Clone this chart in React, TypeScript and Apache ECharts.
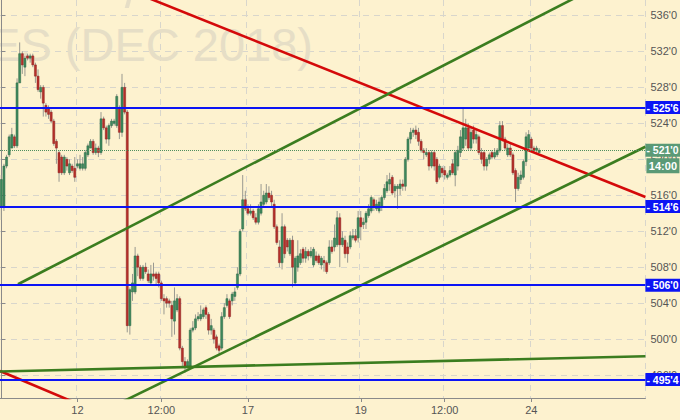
import React, { useEffect, useRef } from "react";
import * as echarts from "echarts";

const SLOTS = 246;
const xTickIndex = [29, 61, 94, 137, 169, 202];
const xTickLabels = ["12", "12:00", "17", "19", "12:00", "24"];
const yTicks = [496, 500, 504, 508, 512, 516, 520, 524, 528, 532, 536];
const yMin = 493.45;
const yMax = 537.72;
const levels = [525.75, 514.75, 506, 495.5];
const lastPrice = 521;
const lastTime = "14:00";
const title = "ES (DEC 2018)";

// [open, close, low, high]
const candles = [
  [514.75, 517.75, 513.25, 518.25], [514.75, 519.25, 514.25, 519.5], [519.25, 520.25, 519, 520.5], [520.5, 522.5, 520.25, 522.75],
  [521.25, 522.75, 521.25, 523.5], [522.5, 521.5, 521.25, 522.75], [521.5, 528.5, 521.25, 529], [528.5, 531.75, 528.5, 533],
  [531.75, 530.5, 529.5, 532], [530.25, 531.25, 529.25, 531.5], [531.5, 531.25, 531, 531.75], [531.25, 531.5, 530.75, 531.75],
  [531.5, 530.5, 530.25, 531.75], [530.5, 529.25, 528.5, 530.75], [529.25, 527.75, 527.5, 530], [527.5, 528, 526.75, 528.25],
  [528, 526.25, 524.75, 528.25], [526, 525.25, 524.75, 526.25], [525.75, 525, 524.5, 526], [525.25, 524.25, 524, 525.5],
  [524.25, 521.75, 521.5, 524.5], [522, 521.25, 519.5, 522.25], [520.75, 518.5, 517.5, 521], [520.25, 518.5, 518.25, 520.5],
  [518.5, 520.25, 518.25, 520.5], [520, 519.25, 518.75, 520.25], [518.5, 519.5, 518.25, 520], [519.25, 518.75, 518.5, 519.5],
  [519, 518, 517.5, 520.25], [519.25, 519.5, 519, 520], [519, 519.5, 518.75, 520.5], [519, 519.5, 518.75, 520.25],
  [519, 520.75, 518.75, 521], [520.5, 521.5, 520.25, 521.75], [521.25, 522, 521.25, 522.25], [522, 520.75, 520.5, 522.25],
  [520.75, 521.25, 520.5, 521.75], [521.25, 520.75, 520.25, 521.5], [520.75, 524.5, 520.5, 525.25], [524.5, 523.5, 523.25, 524.75],
  [523.5, 522.25, 521.75, 523.75], [522.25, 523.75, 521.5, 524], [523.75, 524.25, 523.5, 524.5], [524, 524.25, 523.75, 524.5],
  [523.75, 527, 523.5, 527.25], [525.75, 523, 522.25, 526], [523, 528, 522.5, 529.5], [528, 525.25, 525, 528.5],
  [525.25, 501.5, 500.75, 525.5], [501.5, 505.5, 500.5, 505.75], [505.25, 506.25, 504.25, 507.25], [505.25, 509.25, 505, 510.25],
  [509.25, 508, 507, 509.5], [508, 506.75, 506.5, 508.25], [506.75, 508, 506.5, 508.25], [508, 507.5, 507.25, 508.5],
  [507.25, 506.5, 506.25, 507.75], [506.25, 507.25, 506, 508.25], [507.25, 507, 506.5, 508.5], [507.25, 506.75, 506, 507.5],
  [507.25, 506.25, 505.75, 507.5], [506.25, 504.5, 504.25, 506.5], [504.5, 504.25, 502.75, 505], [504.5, 504, 503.5, 504.75],
  [504.25, 504, 503.5, 504.5], [503.75, 502.25, 500.25, 504.25], [502, 504.25, 500.5, 505.75], [503.25, 504.5, 503, 505],
  [504.5, 499, 498.75, 504.75], [499, 497.5, 497, 499.25], [497.5, 497, 496.25, 498], [497, 497.5, 496.75, 497.75],
  [497, 501, 496.75, 501.25], [501, 501.25, 500.75, 502], [501.25, 502.25, 501, 502.75], [502.25, 502.5, 502, 503],
  [502.25, 502.75, 502, 503.75], [502.5, 503.25, 502.25, 503.5], [503.5, 502.75, 502.25, 503.75], [502.75, 501, 500.5, 503],
  [501, 501.5, 500.5, 502.25], [501, 500, 499.5, 501.25], [500.25, 499, 498.75, 500.5], [499.25, 498.75, 498.25, 499.5],
  [499, 502.5, 498.75, 503], [502.5, 503.5, 502.25, 504], [503.75, 504.5, 503.5, 505], [504.25, 502.5, 502.25, 504.5],
  [504.25, 505, 503.75, 505.25], [504.75, 505.25, 504.25, 505.75], [505.75, 507.25, 505.5, 508], [507.25, 512, 507, 512.25],
  [512.25, 515.5, 512, 518.25], [515.5, 514.5, 514.25, 516.5], [514.5, 514, 513.75, 515], [514, 514.25, 513.75, 515],
  [514.25, 513.5, 513.25, 514.5], [513.5, 513, 512.75, 514], [513, 514.5, 512.75, 515], [514, 515.25, 513.75, 517.25],
  [515, 516, 514.75, 516.5], [515.25, 516.25, 515, 517.25], [516.25, 515.75, 515.5, 517], [516, 515.25, 514.75, 516.5],
  [515, 512.5, 512.25, 515.5], [512.5, 510.75, 510.5, 512.75], [510.25, 508.5, 508, 511], [508.5, 512.5, 507.75, 514],
  [512.5, 509.5, 509, 512.75], [511, 510.25, 509.75, 511.25], [509.5, 511, 509.25, 511.25], [511, 508, 505.75, 511.5],
  [506.25, 509, 506, 509.25], [508, 509.25, 507.5, 511], [508.5, 509.5, 508.25, 510], [510, 509, 508.5, 510.25],
  [509, 509.75, 508.5, 510.25], [509.75, 509.25, 508.75, 510], [509.25, 509.75, 509, 510.25], [508.25, 510, 508, 510.25],
  [509.25, 508.75, 508.5, 509.75], [509.25, 508.5, 508.25, 509.5], [508.25, 509, 507.75, 509.25], [508.75, 508.5, 507.5, 509.25],
  [508.5, 507.5, 507.25, 508.75], [508.5, 510.25, 508.25, 511], [510.25, 509.75, 509.5, 511], [510.25, 511.25, 509.75, 512.75],
  [510.5, 513.5, 510.25, 514.25], [513.5, 510.5, 508, 514], [510.5, 511.25, 510.25, 512], [511, 509.5, 509, 511.5],
  [510.25, 509.5, 508.5, 510.75], [510.25, 511.5, 510, 512], [511.25, 511.5, 511, 512.25], [511.5, 511, 510.75, 512.25],
  [511.25, 513.5, 510.75, 514.25], [513.5, 512.5, 511, 514.25], [512.75, 513, 512.25, 513.5], [513, 514, 512.25, 514.25],
  [513.75, 514.5, 513.5, 515], [514.25, 515.75, 514, 516], [515.5, 514.75, 514.25, 515.75], [514.5, 515, 514.25, 515.5],
  [514.25, 515.25, 514, 515.75], [514.75, 515.75, 514.25, 516], [515.75, 516.75, 515.5, 517.25], [516.5, 517.5, 516.25, 518.25],
  [517.25, 517.75, 516.5, 518.5], [518, 516.25, 516, 518.25], [516.5, 517, 515.75, 517.25], [516.75, 517, 514.5, 517.25],
  [516.75, 517.25, 516, 517.75], [517.25, 517, 516.5, 517.75], [517, 520, 516.5, 520.25], [520, 522.25, 519.75, 522.5],
  [522.25, 523, 521.75, 523.5], [523, 523.25, 522.5, 523.5], [523.25, 522.75, 522.25, 523.75], [523, 522, 521.5, 523.5],
  [522, 521, 520.75, 522.25], [521, 520.75, 520, 521.25], [520.5, 520.75, 520.25, 521.25], [520.75, 519.25, 518.75, 521],
  [519.25, 520.75, 519, 521], [520.75, 519.25, 518.75, 521], [520, 517.5, 517.25, 520.25], [518, 519.25, 517.75, 519.5],
  [519, 518.5, 518, 519.25], [518.75, 518.25, 517.75, 519.25], [518, 518.25, 517.75, 518.5], [518.25, 518.75, 518, 519.25],
  [519.5, 518.5, 518.25, 520], [518.25, 520.75, 517, 521], [519.25, 521, 518.75, 521.5], [520.75, 522.5, 520.25, 523.25],
  [521.25, 523.5, 521, 525.75], [522.25, 523.5, 521.5, 524.5], [523.5, 521.25, 521, 524], [521.25, 523, 521, 523.5],
  [523.25, 522.25, 521.75, 523.75], [522.25, 522.75, 521.75, 523.25], [522.5, 520.75, 520.5, 522.75], [520.75, 520, 519.5, 521.25],
  [520.75, 519.25, 518.75, 521], [519.25, 520, 518.75, 520.25], [520, 520.5, 519.5, 520.75], [520.75, 520.25, 520, 521],
  [520.25, 520.75, 520, 521.25], [520.5, 521, 520.25, 521.25], [521, 523.75, 520.75, 524.25], [523.75, 522.25, 522, 524.25],
  [522.25, 521.25, 521, 522.5], [520.5, 521.25, 520.25, 521.75], [521.25, 520.5, 520.25, 521.75], [520.5, 518.5, 518.25, 520.75],
  [518.75, 516.75, 515.25, 519], [516.75, 518, 516.5, 518.5], [517.75, 518.25, 517.25, 518.75], [518, 519.75, 517.75, 520],
  [519.75, 522.5, 519.25, 523], [521.25, 522.75, 521, 523.25], [522.25, 521.25, 521, 522.5], [521.25, 521, 520.75, 521.5],
  [521, 521.25, 520.75, 521.5], [520.75, 521, 520.75, 521.25],
];

// trend lines: [[slotIndex, price], [slotIndex, price]]
const redLines = [
  [[37.6, 540.1], [245.5, 515.8]],
  [[-0.5, 496.45], [30, 492.7]],
];
const greenLines = [
  [[6.35, 506.1], [235.6, 540.5]],
  [[45.2, 492.9], [245.5, 521.4]],
  [[-0.5, 496.4], [245.5, 498.1]],
];

const BG = "#fdf2cf";
const FONT = "'Liberation Sans', Arial, sans-serif";
const UP = "#3f8a5e";
const DOWN = "#b8302a";
const LABEL_GREEN = "#5a9a76";
const BLUE = "#0b14f5";

function fmt(v: number) {
  const w = Math.floor(v + 1e-9);
  const e = Math.round((v - w) * 8);
  return `${w}'${e}`;
}

export default function App() {
  const ref = useRef<HTMLDivElement>(null);
  useEffect(() => {
    document.body.style.margin = "0";
    const el = ref.current;
    if (!el) return;
    const chart = echarts.init(el, null, { renderer: "svg", width: 680, height: 420 });
    const tickSet = new Set(xTickIndex);
    const cats = Array.from({ length: SLOTS }, (_, i) => {
      const k = xTickIndex.indexOf(i);
      return k >= 0 ? xTickLabels[k] : "";
    });
    const showTick = (i: number) => tickSet.has(i);

    const lineSeries = (pts: number[][], color: string) => ({
      type: "line",
      xAxisIndex: 1,
      yAxisIndex: 0,
      data: pts,
      symbol: "none",
      showSymbol: false,
      silent: true,
      clip: true,
      z: 4,
      lineStyle: { color, width: 2.6 },
    });

    const blueLabel = {
      show: true,
      position: "end",
      distance: 0,
      formatter: (p: any) => "- " + fmt(p.value),
      color: "#ffffff",
      backgroundColor: BLUE,
      fontWeight: "bold",
      fontSize: 10.5,
      fontFamily: FONT,
      padding: [1, 2, 1, 1],
    };

    const option: any = {
      animation: false,
      backgroundColor: BG,
      grid: { left: 0, right: 34, top: 0, bottom: 22, containLabel: false },
      xAxis: [
        {
          type: "category",
          data: cats,
          boundaryGap: true,
          axisLine: { show: true, lineStyle: { color: "#8a8a8a", width: 1 } },
          axisTick: { show: true, interval: showTick, alignWithLabel: true, length: 4, lineStyle: { color: "#8a8a8a" } },
          axisLabel: { interval: showTick, color: "#555", fontSize: 11, fontFamily: FONT, margin: 6 },
          splitLine: { show: true, interval: showTick, lineStyle: { color: "#d8d6cc", type: [6, 5], width: 1 } },
        },
        { type: "value", min: -0.5, max: SLOTS - 0.5, show: false },
      ],
      yAxis: [
        {
          type: "value",
          position: "right",
          min: yMin,
          max: yMax,
          axisLine: { show: true, lineStyle: { color: "#8a8a8a", width: 1 } },
          axisTick: { show: true, customValues: yTicks, length: 4, lineStyle: { color: "#8a8a8a" } },
          axisLabel: { customValues: yTicks, formatter: (v: number) => fmt(v), color: "#555", fontSize: 11, fontFamily: FONT, margin: 5 },
          splitLine: { show: true, lineStyle: { color: "#d8d6cc", type: [6, 5], width: 1 } },
        },
      ],
      series: [
        {
          type: "custom",
          xAxisIndex: 0,
          yAxisIndex: 0,
          z: 3,
          silent: true,
          data: candles.map((c, i) => [i, c[0], c[1], c[2], c[3]]),
          encode: { x: 0, y: [1, 2, 3, 4] },
          renderItem: (params: any, api: any) => {
            const i = api.value(0);
            const o = api.value(1);
            const c = api.value(2);
            const l = api.value(3);
            const h = api.value(4);
            const po = api.coord([i, o]);
            const pc = api.coord([i, c]);
            const pl = api.coord([i, l]);
            const ph = api.coord([i, h]);
            const w = api.size([1, 0])[0] * 0.78;
            const up = c >= o;
            const top = Math.min(po[1], pc[1]);
            const hgt = Math.max(Math.abs(po[1] - pc[1]), 1);
            return {
              type: "group",
              children: [
                { type: "line", shape: { x1: pl[0], y1: pl[1], x2: ph[0], y2: ph[1] }, style: { stroke: "#999990", lineWidth: 1 } },
                {
                  type: "rect",
                  shape: { x: po[0] - w / 2, y: top, width: w, height: hgt },
                  style: { fill: up ? UP : DOWN, stroke: up ? "#2b6645" : "#8a2020", lineWidth: 0.5 },
                },
              ],
            };
          },
        },
        ...redLines.map((pts) => lineSeries(pts, "#d40a0a")),
        ...greenLines.map((pts) => lineSeries(pts, "#3b7d1f")),
        {
          type: "line",
          xAxisIndex: 1,
          yAxisIndex: 0,
          data: [[-0.5, lastPrice]],
          symbol: "none",
          lineStyle: { opacity: 0 },
          silent: true,
          z: 5,
          markLine: {
            silent: true,
            symbol: ["none", "none"],
            animation: false,
            data: [
              ...levels.map((v) => ({
                yAxis: v,
                lineStyle: { color: BLUE, width: 2, type: "solid" },
                label: blueLabel,
              })),
              {
                yAxis: lastPrice,
                lineStyle: { color: "#4f8f5f", width: 1, type: "dotted" },
                label: { ...blueLabel, backgroundColor: LABEL_GREEN },
              },
            ],
          },
        },
      ],
    };
    chart.setOption(option);

    const yLast = chart.convertToPixel({ yAxisIndex: 0 }, lastPrice) as number;
    const xRight = chart.convertToPixel({ xAxisIndex: 1 }, SLOTS - 0.5) as number;

    chart.setOption({
      graphic: [
        {
          id: "wm",
          type: "text",
          x: 313,
          y: 44,
          z: 0,
          silent: true,
          style: { text: title, fontSize: 47, fontFamily: FONT, fill: "#e6dec6", align: "right", verticalAlign: "middle" },
        },
        {
          id: "wm2",
          type: "text",
          x: 132,
          y: 16,
          z: 0,
          silent: true,
          style: { text: "/", fontSize: 52, fontFamily: FONT, fill: "#e6dec6", align: "center", verticalAlign: "bottom" },
        },
        {
          id: "timeBox",
          type: "rect",
          z: 20,
          shape: { x: xRight + 1, y: yLast + 8, width: 33, height: 15 },
          style: { fill: LABEL_GREEN },
        },
        {
          id: "timeText",
          type: "text",
          z: 21,
          x: xRight + 17.5,
          y: yLast + 15.5,
          style: { text: lastTime, fontSize: 11, fontWeight: "bold", fontFamily: FONT, fill: "#ffffff", align: "center", verticalAlign: "middle" },
        },
      ],
    });

    return () => chart.dispose();
  }, []);

  return <div ref={ref} style={{ width: 680, height: 420, background: BG }} />;
}
